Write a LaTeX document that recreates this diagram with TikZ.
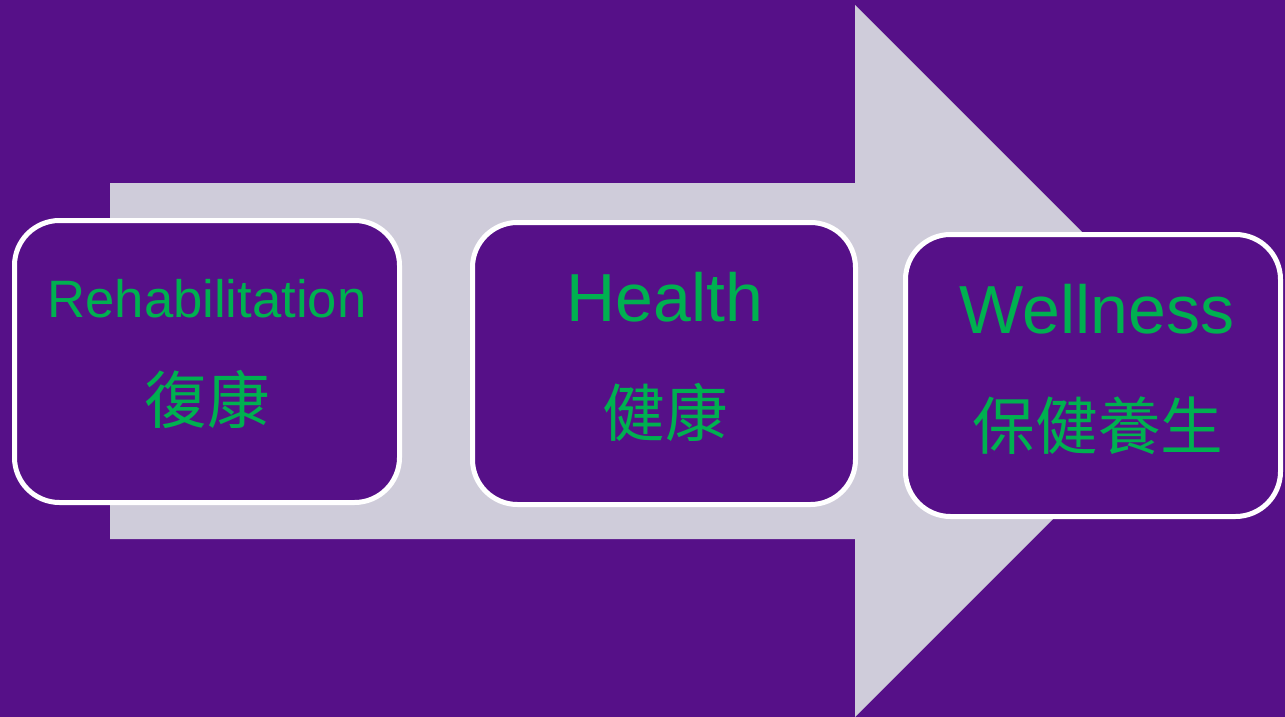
\documentclass[tikz,border=0pt]{standalone}
\usepackage{fontspec}
\setmainfont{Liberation Sans}
\newfontfamily\cjk{Noto Sans CJK TC}
\definecolor{bgpurple}{RGB}{86, 16, 136}
\definecolor{arrowgrey}{RGB}{207, 204, 218}
\definecolor{textgreen}{RGB}{0, 176, 80}
\tikzset{
  stagebox/.style={draw=white, line width=3.75pt, fill=bgpurple, rounded corners=33.75pt,
    minimum width=288.75pt, minimum height=211.5pt, inner sep=0pt},
  entext/.style={text=textgreen, anchor=base, inner sep=0pt},
  zhtext/.style={text=textgreen, anchor=base, inner sep=0pt, font=\cjk\fontsize{47}{56}\selectfont},
}

\begin{document}
\begin{tikzpicture}[x=0.75pt, y=-0.75pt]
  % Background
  \fill[bgpurple] (0,0) rectangle (1285,717);
  \useasboundingbox (0,0) rectangle (1285,717);

  % Big arrow
  \fill[arrowgrey] (110,183) -- (855,183) -- (855,5) -- (1211,361)
    -- (855,717) -- (855,539) -- (110,539) -- cycle;

  % Rehabilitation
  \node[stagebox] (rehab) at (207,361.5) {};
  \node[entext, font=\fontsize{39.5}{47}\selectfont] (rehaben) at (207,317) {Rehabilitation};
  \node[zhtext] (rehabzh) at (207,423) {復康};

  % Health
  \node[stagebox, minimum width=287.25pt] (health) at (664,363.5) {};
  \node[entext, font=\fontsize{51}{61}\selectfont] (healthen) at (665,321) {Health};
  \node[zhtext] (healthzh) at (665,436) {健康};

  % Wellness
  \node[stagebox, minimum width=281.25pt] (well) at (1093,375.5) {};
  \node[entext, font=\fontsize{51}{61}\selectfont] (wellen) at (1097,333) {Wellness};
  \node[zhtext] (wellzh) at (1098,449) {保健養生};
\end{tikzpicture}
\end{document}
